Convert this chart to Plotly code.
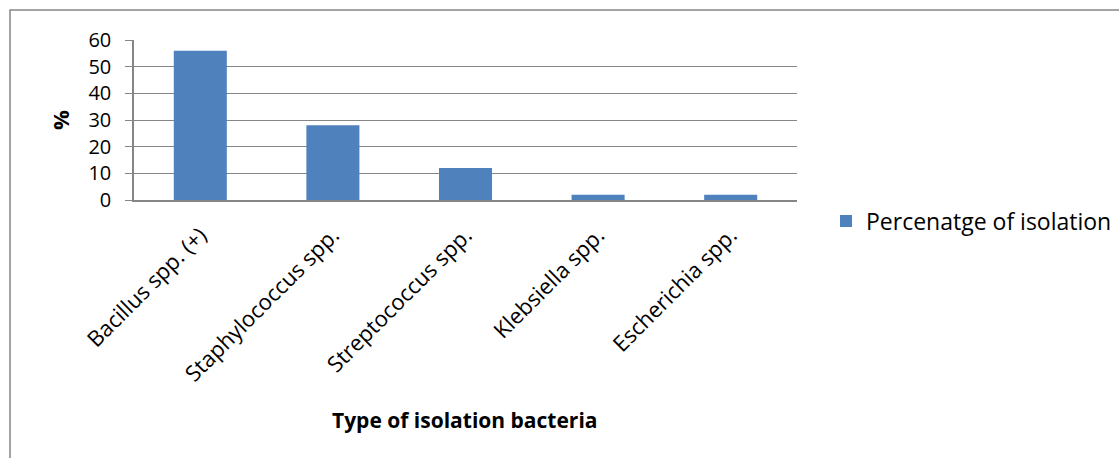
import plotly.graph_objects as go

categories = ["Bacillus spp. (+)", "Staphylococcus spp.", "Streptococcus spp.", "Klebsiella spp.", "Escherichia spp."]
values = [56, 28, 12, 2, 2]
series_name = "Percenatge of isolation"
y_ticks = [0, 10, 20, 30, 40, 50, 60]

W, H = 1119, 458
L, R, T, B = 134, 797, 40, 200
pw, ph = R - L, B - T

def px(x):
    return (x - L) / pw

def py(y):
    return (B - y) / ph

FONT = "Open Sans"
GRID = "#868686"

fig = go.Figure()
fig.add_trace(go.Bar(x=categories, y=values, name=series_name,
                     marker=dict(color="#4F81BD", line=dict(width=0)),
                     showlegend=True))

fig.update_layout(
    width=W, height=H,
    margin=dict(l=L, r=W - R, t=T, b=H - B, autoexpand=False),
    paper_bgcolor="white", plot_bgcolor="white",
    font=dict(family=FONT, color="black", size=22),
    bargap=0.6,
    showlegend=True,
    legend=dict(x=px(826), y=py(221), xanchor="left", yanchor="middle",
                font=dict(size=23, family=FONT), bgcolor="rgba(0,0,0,0)",
                itemwidth=30),
    xaxis=dict(tickangle=-45, showgrid=False, showline=True, linecolor=GRID,
               linewidth=1.5, ticks="", tickfont=dict(size=22, family=FONT),
               ticklabelstandoff=12),
    yaxis=dict(range=[0, 60], tickvals=y_ticks, showgrid=True, gridcolor=GRID,
               gridwidth=1.3, showline=True, linecolor=GRID, linewidth=1.5,
               ticks="outside", ticklen=7, tickcolor=GRID, zeroline=False,
               tickfont=dict(size=20, family=FONT), ticklabelstandoff=10),
)

fig.add_annotation(text="<b>%</b>", x=px(60), y=py(120), xref="paper", yref="paper",
                   xanchor="center", yanchor="middle",
                   textangle=-90, showarrow=False, font=dict(size=22, family=FONT))
fig.add_annotation(text="<b>Type of isolation bacteria</b>", x=px(465), y=py(420),
                   xref="paper", yref="paper", xanchor="center", yanchor="middle",
                   showarrow=False, font=dict(size=21, family=FONT))

fig.add_shape(type="rect", xref="paper", yref="paper",
              x0=px(10), y0=py(470), x1=px(1130), y1=py(10),
              line=dict(color="#868686", width=1.5), fillcolor="rgba(0,0,0,0)", layer="below")

fig.write_html("out.html", config={"displayModeBar": False},
               post_script="document.body.style.margin='0';document.body.style.padding='0';")
